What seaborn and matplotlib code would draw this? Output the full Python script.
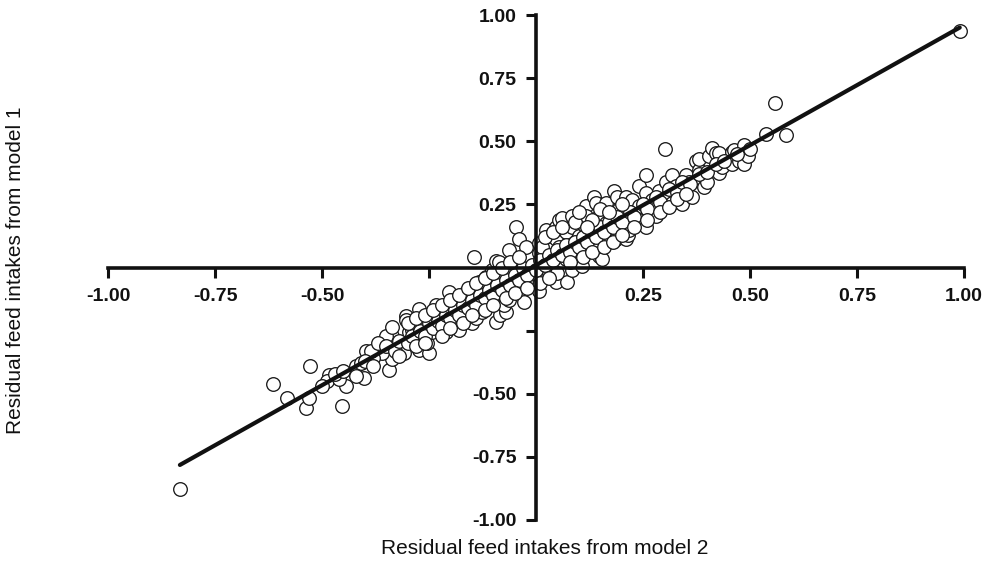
import matplotlib
matplotlib.use("Agg")
import matplotlib.pyplot as plt
import pandas as pd
import seaborn as sns

# Residual feed intakes (per animal) estimated by two models
rfi_model2 = [
    # lower tail
    -0.832, -0.614, -0.582, -0.528, -0.537, -0.530, -0.484, -0.488, -0.453, -0.444,
    -0.397, -0.402, -0.421, -0.360, -0.343, -0.336, -0.336, -0.313, -0.360, -0.350,
    -0.336, -0.380, -0.410, -0.460, -0.500, -0.470, -0.385, -0.370,
    # central cloud
    -0.308, -0.304, -0.304, -0.297, -0.290, -0.280, -0.273, -0.273, -0.273, -0.250,
    -0.255, -0.243, -0.243, -0.234, -0.220, -0.210, -0.203, -0.196, -0.196, -0.187,
    -0.180, -0.180, -0.164, -0.164, -0.150, -0.140, -0.145, -0.140, -0.133, -0.133,
    -0.126, -0.117, -0.110, -0.103, -0.093, -0.093, -0.085, -0.086, -0.086, -0.070,
    -0.075, -0.063, -0.063, -0.056, -0.047, -0.040, -0.040, -0.040, -0.028, -0.023,
    -0.023, -0.009, 0.007, 0.007, 0.007, 0.007, 0.014, 0.023, 0.023, 0.030,
    0.030, 0.047, 0.047, 0.047, 0.054, 0.054, 0.061, 0.070, 0.070, 0.072,
    0.084, 0.084, 0.084, 0.093, 0.100, 0.100, 0.107, 0.112, 0.117, 0.117,
    0.117, 0.131, 0.136, 0.140, 0.147, 0.147, 0.147, 0.154, 0.164, 0.164,
    0.178, 0.182, 0.187, 0.190, 0.194, 0.194, 0.210, 0.210, 0.215, 0.217,
    0.224, 0.224, 0.241, 0.241, 0.241, 0.257, 0.257, 0.257, 0.271, 0.271,
    0.280, 0.287, 0.301, 0.304, 0.304, 0.318, 0.318, 0.327, 0.341, 0.350,
    0.357, 0.364, 0.374, 0.381, 0.381, 0.393, 0.400, 0.404, 0.411, 0.420,
    0.428, 0.428, 0.435, 0.458, 0.458, 0.463, 0.474, 0.486, 0.486, 0.495,
    # upper tail
    0.537, 0.558, 0.584, 0.990,
    # dense band along the fitted line
    -0.45, -0.42, -0.40, -0.38, -0.35, -0.33, -0.32, -0.30, -0.29, -0.27,
    -0.26, -0.25, -0.24, -0.23, -0.22, -0.21, -0.20, -0.19, -0.18, -0.17,
    -0.16, -0.15, -0.14, -0.13, -0.12, -0.11, -0.10, -0.09, -0.08, -0.07,
    -0.06, -0.05, -0.04, -0.03, -0.02, -0.01, 0.00, 0.01, 0.02, 0.03,
    0.04, 0.05, 0.06, 0.07, 0.08, 0.09, 0.10, 0.11, 0.12, 0.13,
    0.14, 0.15, 0.16, 0.17, 0.18, 0.19, 0.20, 0.22, 0.23, 0.25,
    0.26, 0.28, 0.29, 0.31, 0.33, 0.34, 0.36, 0.38, 0.40, 0.42,
    0.44, 0.47, 0.50,
    # above the band
    0.02, 0.04, 0.06, 0.09, 0.10, 0.13, 0.15, 0.17, 0.20, 0.12,
    # below the band
    0.05, 0.08, 0.11, 0.13, 0.16, 0.18, 0.20, 0.23, 0.26, 0.29,
    0.31, 0.33, 0.35,
    -0.30, -0.28, -0.26, -0.24, -0.22, -0.20, -0.18, -0.16, -0.14, -0.12,
    -0.10, -0.08, -0.06, -0.04,
    -0.32, -0.28, -0.26, -0.22, -0.20, -0.17, -0.15, -0.12, -0.10, -0.07,
    -0.05, -0.02, 0.01, 0.03,
]

rfi_model1 = [
    # lower tail
    -0.879, -0.463, -0.515, -0.392, -0.558, -0.515, -0.424, -0.451, -0.547, -0.471,
    -0.329, -0.436, -0.392, -0.313, -0.404, -0.273, -0.364, -0.313, -0.337, -0.273,
    -0.234, -0.360, -0.380, -0.440, -0.470, -0.420, -0.330, -0.300,
    # central cloud
    -0.337, -0.194, -0.206, -0.257, -0.246, -0.285, -0.166, -0.234, -0.325, -0.337,
    -0.300, -0.234, -0.257, -0.147, -0.194, -0.257, -0.099, -0.127, -0.234, -0.178,
    -0.135, -0.246, -0.154, -0.099, -0.218, -0.200, 0.040, -0.099, -0.059, -0.154,
    -0.178, -0.036, -0.127, -0.008, 0.024, -0.214, -0.190, -0.099, 0.020, -0.178,
    -0.150, 0.071, -0.127, -0.048, 0.162, 0.111, -0.008, -0.099, -0.135, 0.083,
    -0.059, -0.008, 0.059, -0.036, -0.095, 0.099, 0.083, 0.020, 0.150, 0.123,
    -0.020, 0.162, 0.111, -0.059, 0.083, 0.190, 0.198, 0.032, 0.139, -0.059,
    0.162, 0.202, -0.008, 0.059, 0.123, 0.020, 0.004, 0.170, 0.242, 0.202,
    0.071, 0.139, 0.281, 0.255, 0.202, 0.083, 0.044, 0.032, 0.257, 0.178,
    0.139, 0.301, 0.111, 0.280, 0.230, 0.190, 0.111, 0.281, 0.130, 0.150,
    0.269, 0.218, 0.242, 0.321, 0.190, 0.368, 0.297, 0.162, 0.269, 0.242,
    0.202, 0.301, 0.471, 0.281, 0.337, 0.368, 0.257, 0.321, 0.250, 0.368,
    0.337, 0.281, 0.420, 0.388, 0.428, 0.317, 0.340, 0.440, 0.475, 0.455,
    0.455, 0.376, 0.400, 0.459, 0.408, 0.467, 0.420, 0.487, 0.408, 0.440,
    # upper tail
    0.527, 0.653, 0.523, 0.935,
    # dense band along the fitted line
    -0.41, -0.43, -0.37, -0.39, -0.31, -0.33, -0.29, -0.30, -0.27, -0.25,
    -0.27, -0.22, -0.24, -0.21, -0.23, -0.19, -0.20, -0.17, -0.19, -0.15,
    -0.16, -0.13, -0.15, -0.11, -0.12, -0.09, -0.11, -0.07, -0.09, -0.05,
    -0.07, -0.03, -0.05, 0.00, -0.03, 0.01, -0.01, 0.03, 0.01, 0.05,
    0.03, 0.07, 0.05, 0.09, 0.06, 0.10, 0.08, 0.12, 0.10, 0.14,
    0.12, 0.16, 0.14, 0.18, 0.16, 0.20, 0.18, 0.22, 0.20, 0.25,
    0.23, 0.28, 0.26, 0.31, 0.30, 0.34, 0.33, 0.37, 0.38, 0.41,
    0.42, 0.45, 0.47,
    # above the band
    0.12, 0.14, 0.16, 0.18, 0.22, 0.19, 0.23, 0.22, 0.25, 0.16,
    # below the band
    -0.02, 0.02, 0.04, 0.06, 0.08, 0.10, 0.13, 0.16, 0.19, 0.22,
    0.24, 0.27, 0.29,
    -0.22, -0.20, -0.19, -0.17, -0.15, -0.13, -0.11, -0.08, -0.06, -0.04,
    -0.02, 0.00, 0.02, 0.04,
    -0.35, -0.31, -0.30, -0.27, -0.24, -0.22, -0.19, -0.17, -0.15, -0.12,
    -0.10, -0.08, -0.06, -0.04,
]

tick_values = [-1.0, -0.75, -0.5, -0.25, 0.0, 0.25, 0.5, 0.75, 1.0]
tick_labels = ["-1.00", "-0.75", "-0.50", "", "", "0.25", "0.50", "0.75", "1.00"]
x_title = "Residual feed intakes from model 2"
y_title = "Residual feed intakes from model 1"

df = pd.DataFrame({"model2": rfi_model2, "model1": rfi_model1})

sns.set_style("white")
plt.rcParams["font.family"] = ["Liberation Sans", "DejaVu Sans"]

fig = plt.figure(figsize=(9.9, 5.63), dpi=100)
ax = fig.add_axes([108 / 990, 43 / 563, 856 / 990, 505 / 563])

sns.scatterplot(
    data=df, x="model2", y="model1", ax=ax,
    marker="o", s=96, color="white", edgecolor="#1a1a1a",
    linewidth=0.95, clip_on=False, zorder=2, legend=False,
)
sns.regplot(
    data=df, x="model2", y="model1", ax=ax,
    scatter=False, ci=None, truncate=True,
    line_kws=dict(color="#111111", lw=3.0, zorder=3),
)

ax.set_xlim(-1, 1)
ax.set_ylim(-1, 1)

# Cross-shaped axes through the origin
for side in ("top", "right"):
    ax.spines[side].set_visible(False)
for side in ("left", "bottom"):
    ax.spines[side].set_position(("data", 0))
    ax.spines[side].set_linewidth(2.6)
    ax.spines[side].set_color("#111111")

ax.set_xticks(tick_values)
ax.set_xticklabels(tick_labels, fontweight="bold", fontsize=14)
ax.set_yticks(tick_values)
ax.set_yticklabels(tick_labels, fontweight="bold", fontsize=14)
ax.tick_params(axis="both", which="major", bottom=True, left=True,
               direction="out", length=7, width=2.2,
               color="#111111", labelcolor="#111111")
ax.tick_params(axis="x", pad=8)
ax.tick_params(axis="y", pad=7)

ax.set_xlabel("")
ax.set_ylabel("")
ax.grid(False)

fig.text(545 / 990, 1 - 548 / 563, x_title, ha="center", va="center",
         fontsize=15, color="#111111")
fig.text(16 / 990, 1 - 270 / 563, y_title, ha="center", va="center",
         rotation=90, fontsize=15, color="#111111")

fig.savefig("out.png", dpi=100, facecolor="white")
